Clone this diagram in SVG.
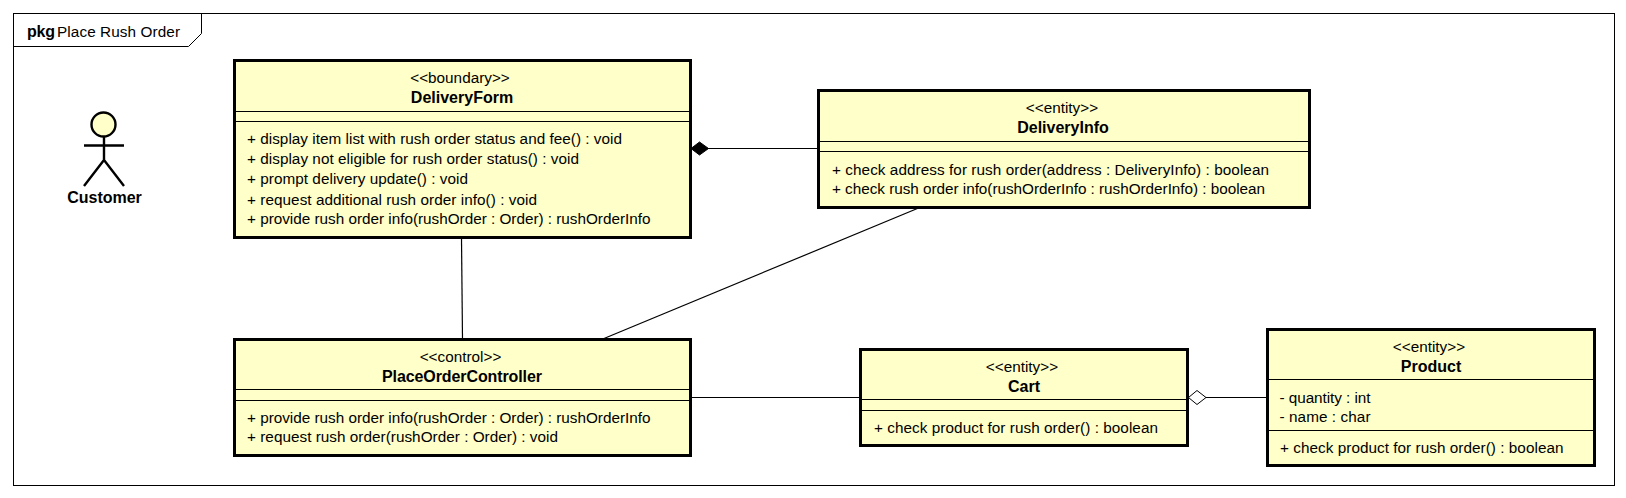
<svg xmlns="http://www.w3.org/2000/svg" width="1626" height="498" viewBox="0 0 1626 498">
<style>
text{font-family:"Liberation Sans",Arial,sans-serif;font-size:15.3px;fill:#000}
.b{font-weight:bold;font-size:16px}
.m{text-anchor:middle}
.box{fill:#ffffc9;stroke:#000;stroke-width:3}
.sep{stroke:#000;stroke-width:1;fill:none}
.ln{stroke:#000;stroke-width:1.2;fill:none}
</style>
<rect width="1626" height="498" fill="#fff"/>
<g id="frame">
<rect x="13.5" y="13.5" width="1601" height="472" fill="#fff" stroke="#000" stroke-width="1"/>
<path d="M13.5 46.500H188.500L201.500 33.500V13.500" fill="none" stroke="#000" stroke-width="1"/>
<text x="27" y="37" class="b" textLength="28">pkg</text><text x="57" y="37" textLength="123">Place Rush Order</text>
</g>
<g id="DeliveryForm">
<rect class="box" x="234.500" y="60.500" width="456" height="177"/>
<path class="sep" d="M235 111.500H690M235 121.500H690"/>
<text x="460" y="83" class="m">&lt;&lt;boundary&gt;&gt;</text>
<text x="462" y="103" class="b m">DeliveryForm</text>
<text x="247" y="144" textLength="375">+ display item list with rush order status and fee() : void</text>
<text x="247" y="164" textLength="332">+ display not eligible for rush order status() : void</text>
<text x="247" y="184" textLength="221">+ prompt delivery update() : void</text>
<text x="247" y="205" textLength="290">+ request additional rush order info() : void</text>
<text x="247" y="224" textLength="403.500">+ provide rush order info(rushOrder : Order) : rushOrderInfo</text>
</g>
<g id="DeliveryInfo">
<rect class="box" x="818.500" y="90.500" width="491" height="117"/>
<path class="sep" d="M819 141.500H1309M819 151.500H1309"/>
<text x="1062" y="113" class="m">&lt;&lt;entity&gt;&gt;</text>
<text x="1063" y="133" class="b m">DeliveryInfo</text>
<text x="832" y="175" textLength="437">+ check address for rush order(address : DeliveryInfo) : boolean</text>
<text x="832" y="194" textLength="433">+ check rush order info(rushOrderInfo : rushOrderInfo) : boolean</text>
</g>
<g id="PlaceOrderController">
<rect class="box" x="234.500" y="339.500" width="456" height="116"/>
<path class="sep" d="M235 389.500H690M235 400.500H690"/>
<text x="460.500" y="362" class="m">&lt;&lt;control&gt;&gt;</text>
<text x="462" y="382" class="b m" textLength="160">PlaceOrderController</text>
<text x="247" y="423" textLength="403.500">+ provide rush order info(rushOrder : Order) : rushOrderInfo</text>
<text x="247" y="442" textLength="311">+ request rush order(rushOrder : Order) : void</text>
</g>
<g id="Cart">
<rect class="box" x="860.500" y="349.500" width="327" height="96"/>
<path class="sep" d="M861 399.500H1187M861 410.500H1187"/>
<text x="1022" y="372" class="m">&lt;&lt;entity&gt;&gt;</text>
<text x="1024" y="392" class="b m">Cart</text>
<text x="874" y="433" textLength="284">+ check product for rush order() : boolean</text>
</g>
<g id="Product">
<rect class="box" x="1267.500" y="329.500" width="327" height="136"/>
<path class="sep" d="M1268 379.500H1594M1268 430.500H1594"/>
<text x="1429" y="352" class="m">&lt;&lt;entity&gt;&gt;</text>
<text x="1431" y="372" class="b m">Product</text>
<text x="1279.500" y="403" textLength="91">- quantity : int</text>
<text x="1279.500" y="422" textLength="91">- name : char</text>
<text x="1280" y="453" textLength="283.500">+ check product for rush order() : boolean</text>
</g>
<g id="connectors">
<line class="ln" x1="461.500" y1="238" x2="462.500" y2="339"/>
<line class="ln" x1="604" y1="338.500" x2="921" y2="207"/>
<line class="ln" x1="691" y1="148.500" x2="818" y2="148.500"/>
<path d="M691 148.500L699.500 142L708.500 148.500L699.500 155Z" fill="#000" stroke="#000"/>
<line class="ln" x1="691" y1="397.500" x2="860" y2="397.500"/>
<line class="ln" x1="1206" y1="397.500" x2="1267" y2="397.500"/>
<path d="M1188.500 397.500L1197 390.500L1206 397.500L1197 404.500Z" fill="#fff" stroke="#000"/>
</g>
<g id="Customer">
<circle cx="103.500" cy="124.500" r="12" fill="#ffffc9" stroke="#000" stroke-width="2.400"/>
<path d="M104 136.500V160M84 145.500H124M84 186L104 160L124 186" fill="none" stroke="#000" stroke-width="2.400"/>
<text x="104.500" y="203" class="b m">Customer</text>
</g>
</svg>
